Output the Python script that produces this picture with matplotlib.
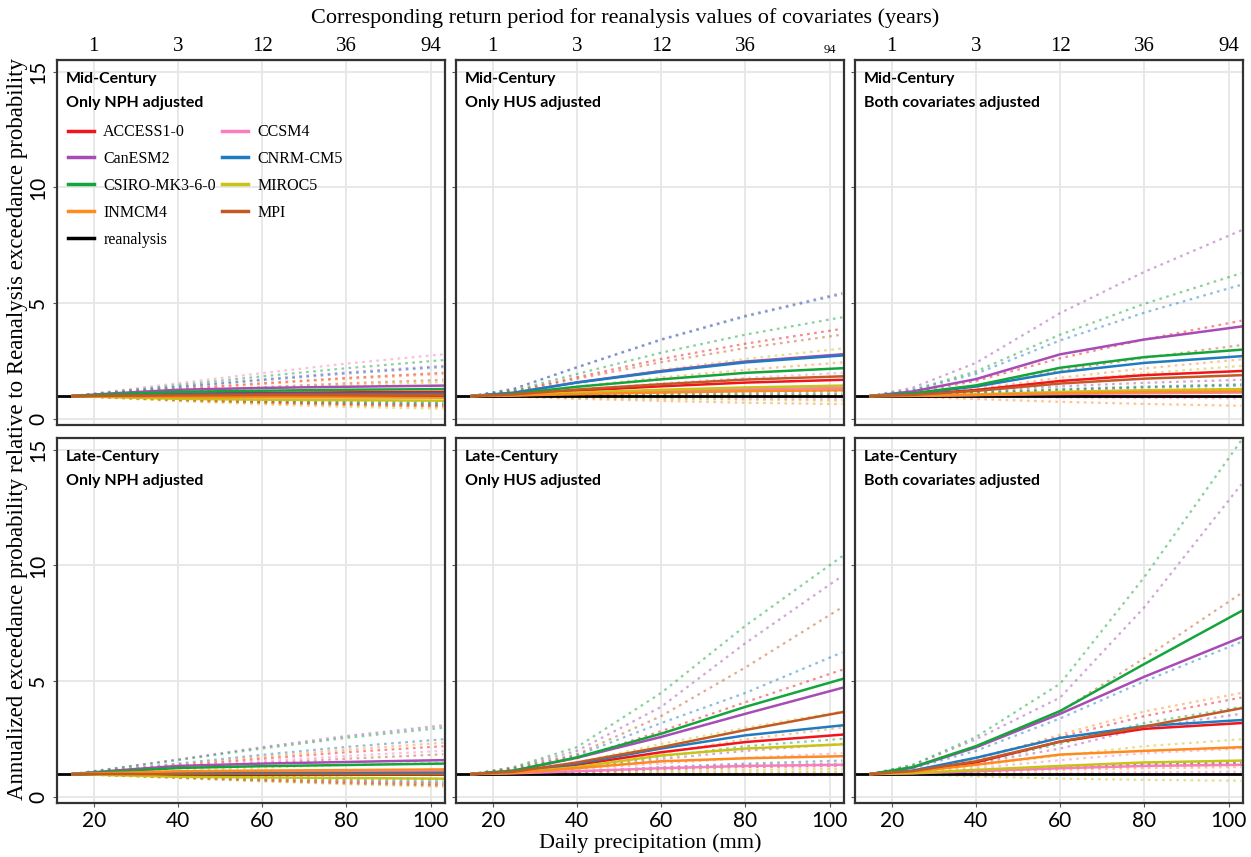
import matplotlib.pyplot as plt
from matplotlib.lines import Line2D

x_pts = [15, 25, 40, 60, 80, 103]

models = ["ACCESS1-0", "CCSM4", "CanESM2", "CNRM-CM5",
          "CSIRO-MK3-6-0", "MIROC5", "INMCM4", "MPI"]
colors = ["#f2141c", "#f77fbf", "#a84cb5", "#1f7cc1",
          "#13a53b", "#c9c317", "#ff8a1e", "#c25a25"]

top_ticks = [20, 40, 60, 80, 100]
top_labels = ["1", "3", "12", "36", "94"]

# ---- Mid-Century, only NPH adjusted
mid_nph_fit = [[1, 1.05, 1.10, 1.14, 1.16, 1.18],
               [1, 1.01, 1.03, 1.04, 1.05, 1.05],
               [1, 1.12, 1.27, 1.35, 1.40, 1.45],
               [1, 1.03, 1.06, 1.08, 1.09, 1.10],
               [1, 1.08, 1.18, 1.23, 1.27, 1.30],
               [1, 0.95, 0.88, 0.84, 0.82, 0.80],
               [1, 0.98, 0.96, 0.95, 0.94, 0.93],
               [1, 1.01, 1.03, 1.04, 1.05, 1.05]]
mid_nph_hi = [[1, 1.12, 1.30, 1.55, 1.78, 2.00],
              [1, 1.22, 1.55, 1.99, 2.40, 2.80],
              [1, 1.16, 1.40, 1.72, 2.02, 2.30],
              [1, 1.15, 1.38, 1.68, 1.97, 2.25],
              [1, 1.19, 1.47, 1.85, 2.20, 2.55],
              [1, 1.07, 1.18, 1.33, 1.47, 1.60],
              [1, 1.11, 1.29, 1.52, 1.74, 1.95],
              [1, 1.08, 1.21, 1.38, 1.55, 1.70]]
mid_nph_lo = [[1, 0.93, 0.82, 0.71, 0.62, 0.55],
              [1, 0.94, 0.84, 0.74, 0.66, 0.60],
              [1, 0.96, 0.90, 0.84, 0.79, 0.75],
              [1, 0.95, 0.86, 0.77, 0.70, 0.65],
              [1, 0.95, 0.88, 0.80, 0.74, 0.70],
              [1, 0.91, 0.78, 0.64, 0.53, 0.45],
              [1, 0.93, 0.82, 0.70, 0.61, 0.55],
              [1, 0.94, 0.84, 0.74, 0.66, 0.60]]

# ---- Mid-Century, only HUS adjusted
mid_hus_fit = [[1, 1.06, 1.23, 1.42, 1.58, 1.70],
               [1, 1.03, 1.12, 1.21, 1.29, 1.35],
               [1, 1.14, 1.59, 2.08, 2.49, 2.80],
               [1, 1.14, 1.58, 2.05, 2.45, 2.75],
               [1, 1.10, 1.40, 1.72, 2.00, 2.20],
               [1, 1.04, 1.15, 1.27, 1.37, 1.45],
               [1, 1.02, 1.08, 1.15, 1.21, 1.25],
               [1, 1.07, 1.28, 1.51, 1.71, 1.85]]
mid_hus_hi = [[1, 1.20, 1.81, 2.60, 3.26, 3.90],
              [1, 1.07, 1.28, 1.55, 1.78, 2.00],
              [1, 1.31, 2.25, 3.45, 4.47, 5.45],
              [1, 1.31, 2.23, 3.42, 4.43, 5.40],
              [1, 1.24, 1.95, 2.87, 3.65, 4.40],
              [1, 1.14, 1.57, 2.13, 2.60, 3.05],
              [1, 1.10, 1.41, 1.80, 2.13, 2.45],
              [1, 1.19, 1.74, 2.46, 3.07, 3.65]]
mid_hus_lo = [[1, 0.99, 0.98, 0.97, 0.96, 0.95],
              [1, 0.98, 0.95, 0.91, 0.88, 0.85],
              [1, 1.03, 1.09, 1.15, 1.21, 1.25],
              [1, 1.02, 1.07, 1.12, 1.16, 1.20],
              [1, 1.01, 1.04, 1.06, 1.08, 1.10],
              [1, 0.98, 0.93, 0.88, 0.84, 0.80],
              [1, 0.97, 0.88, 0.79, 0.71, 0.65],
              [1, 1.01, 1.02, 1.03, 1.04, 1.05]]

# ---- Mid-Century, both covariates adjusted
mid_both_fit = [[1, 1.06, 1.26, 1.65, 1.90, 2.08],
                [1, 1.01, 1.04, 1.09, 1.12, 1.15],
                [1, 1.20, 1.73, 2.80, 3.44, 4.00],
                [1, 1.10, 1.41, 2.03, 2.43, 2.72],
                [1, 1.12, 1.46, 2.22, 2.68, 3.00],
                [1, 1.02, 1.07, 1.18, 1.25, 1.30],
                [1, 1.01, 1.05, 1.12, 1.17, 1.20],
                [1, 1.05, 1.22, 1.54, 1.75, 1.90]]
mid_both_hi = [[1, 1.16, 1.65, 2.63, 3.44, 4.25],
               [1, 1.03, 1.10, 1.25, 1.38, 1.50],
               [1, 1.36, 2.43, 4.58, 6.36, 8.15],
               [1, 1.24, 1.96, 3.40, 4.60, 5.80],
               [1, 1.27, 2.06, 3.65, 4.98, 6.30],
               [1, 1.07, 1.26, 1.65, 1.98, 2.30],
               [1, 1.08, 1.32, 1.79, 2.19, 2.58],
               [1, 1.11, 1.44, 2.10, 2.65, 3.20]]
mid_both_lo = [[1, 1.02, 1.09, 1.18, 1.25, 1.30],
               [1, 0.99, 0.97, 0.94, 0.92, 0.90],
               [1, 1.06, 1.21, 1.42, 1.57, 1.70],
               [1, 1.04, 1.14, 1.27, 1.37, 1.45],
               [1, 1.04, 1.15, 1.30, 1.41, 1.50],
               [1, 1.00, 0.99, 0.97, 0.96, 0.95],
               [1, 0.97, 0.87, 0.75, 0.66, 0.58],
               [1, 1.02, 1.06, 1.12, 1.16, 1.20]]

# ---- Late-Century, only NPH adjusted
late_nph_fit = [[1, 1.03, 1.06, 1.08, 1.09, 1.10],
                [1, 1.03, 1.06, 1.08, 1.09, 1.10],
                [1, 1.15, 1.35, 1.45, 1.52, 1.60],
                [1, 1.01, 1.03, 1.04, 1.04, 1.05],
                [1, 1.11, 1.26, 1.34, 1.39, 1.45],
                [1, 0.95, 0.88, 0.85, 0.83, 0.80],
                [1, 1.05, 1.12, 1.15, 1.17, 1.20],
                [1, 1.00, 0.99, 0.99, 0.98, 0.98]]
late_nph_hi = [[1, 1.14, 1.36, 1.66, 1.94, 2.20],
               [1, 1.12, 1.30, 1.55, 1.78, 2.00],
               [1, 1.25, 1.63, 2.16, 2.64, 3.10],
               [1, 1.18, 1.45, 1.83, 2.17, 2.50],
               [1, 1.24, 1.60, 2.10, 2.56, 3.00],
               [1, 1.06, 1.15, 1.28, 1.39, 1.50],
               [1, 1.16, 1.41, 1.74, 2.05, 2.35],
               [1, 1.10, 1.26, 1.47, 1.66, 1.85]]
late_nph_lo = [[1, 0.95, 0.86, 0.74, 0.64, 0.55],
               [1, 0.95, 0.87, 0.77, 0.68, 0.60],
               [1, 0.98, 0.94, 0.88, 0.84, 0.80],
               [1, 0.96, 0.89, 0.80, 0.72, 0.65],
               [1, 0.97, 0.92, 0.86, 0.80, 0.75],
               [1, 0.93, 0.82, 0.68, 0.56, 0.45],
               [1, 0.95, 0.87, 0.77, 0.68, 0.60],
               [1, 0.94, 0.84, 0.71, 0.60, 0.50]]

# ---- Late-Century, only HUS adjusted
late_hus_fit = [[1, 1.08, 1.40, 1.94, 2.38, 2.70],
                [1, 1.03, 1.12, 1.25, 1.35, 1.40],
                [1, 1.14, 1.70, 2.60, 3.60, 4.72],
                [1, 1.09, 1.45, 2.10, 2.67, 3.10],
                [1, 1.15, 1.72, 2.74, 3.90, 5.10],
                [1, 1.06, 1.30, 1.80, 2.10, 2.28],
                [1, 1.05, 1.25, 1.55, 1.68, 1.77],
                [1, 1.10, 1.50, 2.16, 2.90, 3.67]]
late_hus_hi = [[1, 1.16, 1.68, 2.85, 4.10, 5.50],
               [1, 1.05, 1.20, 1.45, 1.70, 1.90],
               [1, 1.27, 2.00, 3.90, 6.65, 9.55],
               [1, 1.20, 1.80, 3.20, 4.50, 6.25],
               [1, 1.30, 2.16, 4.50, 7.40, 10.40],
               [1, 1.12, 1.50, 2.30, 3.00, 3.70],
               [1, 1.08, 1.35, 1.90, 2.50, 3.00],
               [1, 1.24, 1.85, 3.50, 5.60, 8.20]]
late_hus_lo = [[1, 1.02, 1.08, 1.20, 1.30, 1.35],
               [1, 0.99, 0.98, 0.97, 0.96, 0.95],
               [1, 1.04, 1.25, 1.65, 2.00, 2.30],
               [1, 1.02, 1.10, 1.30, 1.45, 1.58],
               [1, 1.05, 1.30, 1.75, 2.20, 2.52],
               [1, 1.01, 1.05, 1.12, 1.18, 1.22],
               [1, 1.00, 1.02, 1.05, 1.07, 1.10],
               [1, 1.02, 1.10, 1.25, 1.38, 1.45]]

# ---- Late-Century, both covariates adjusted
late_both_fit = [[1, 1.12, 1.50, 2.40, 2.95, 3.20],
                 [1, 1.03, 1.12, 1.25, 1.35, 1.40],
                 [1, 1.28, 2.15, 3.60, 5.20, 6.90],
                 [1, 1.15, 1.70, 2.56, 3.07, 3.33],
                 [1, 1.30, 2.20, 3.72, 5.75, 8.03],
                 [1, 1.04, 1.18, 1.35, 1.50, 1.58],
                 [1, 1.10, 1.40, 1.84, 2.00, 2.16],
                 [1, 1.13, 1.55, 2.40, 3.05, 3.84]]
late_both_hi = [[1, 1.15, 1.70, 2.60, 3.50, 4.30],
                [1, 1.06, 1.25, 1.60, 1.90, 2.10],
                [1, 1.38, 2.50, 4.30, 8.20, 13.50],
                [1, 1.25, 2.00, 3.40, 5.00, 6.70],
                [1, 1.40, 2.60, 4.90, 9.50, 15.40],
                [1, 1.08, 1.35, 1.80, 2.20, 2.50],
                [1, 1.15, 1.60, 2.70, 3.70, 4.50],
                [1, 1.30, 2.20, 3.70, 6.00, 8.80]]
late_both_lo = [[1, 1.02, 1.10, 1.25, 1.35, 1.40],
                [1, 1.00, 1.02, 1.05, 1.08, 1.10],
                [1, 1.08, 1.45, 2.10, 3.00, 3.60],
                [1, 1.03, 1.15, 1.30, 1.42, 1.48],
                [1, 1.10, 1.50, 2.30, 3.20, 3.90],
                [1, 0.98, 0.90, 0.80, 0.75, 0.71],
                [1, 1.02, 1.08, 1.18, 1.25, 1.30],
                [1, 1.03, 1.12, 1.30, 1.45, 1.50]]

panels = [
    ("Mid-Century\nOnly NPH adjusted", mid_nph_fit, mid_nph_lo, mid_nph_hi),
    ("Mid-Century\nOnly HUS adjusted", mid_hus_fit, mid_hus_lo, mid_hus_hi),
    ("Mid-Century\nBoth covariates adjusted", mid_both_fit, mid_both_lo, mid_both_hi),
    ("Late-Century\nOnly NPH adjusted", late_nph_fit, late_nph_lo, late_nph_hi),
    ("Late-Century\nOnly HUS adjusted", late_hus_fit, late_hus_lo, late_hus_hi),
    ("Late-Century\nBoth covariates adjusted", late_both_fit, late_both_lo, late_both_hi),
]

W, H = 1251, 857
fig = plt.figure(figsize=(W / 100, H / 100), dpi=100)

col_left = [57, 456, 855]
col_w = 388
row_top = [60, 438]
row_h = 365

serif = "Liberation Serif"
sans = "Lato"
xmin, xmax = 11.3, 103.4

for i, (title, fit, lo, hi) in enumerate(panels):
    r, c = divmod(i, 3)
    ax = fig.add_axes([col_left[c] / W, 1 - (row_top[r] + row_h) / H,
                       col_w / W, row_h / H])
    ax.set_xlim(xmin, xmax)
    ax.set_ylim(-0.25, 15.5)
    ax.set_xticks([20, 40, 60, 80, 100])
    ax.set_yticks([0, 5, 10, 15])
    ax.grid(True, color="#e6e6e6", lw=1.3)
    ax.set_axisbelow(True)
    for s in ax.spines.values():
        s.set_color("#333333")
        s.set_linewidth(1.6)
    ax.tick_params(length=3, color="#555555", labelsize=15)

    # dotted bounds first
    for k in range(len(models)):
        ax.plot(x_pts, hi[k], color=colors[k], lw=1.6, alpha=0.5,
                ls=(0, (1.2, 2.0)))
        ax.plot(x_pts, lo[k], color=colors[k], lw=1.6, alpha=0.5,
                ls=(0, (1.2, 2.0)))
    ax.plot([xmin, xmax], [1, 1], color="black", lw=2)
    for k in range(len(models)):
        ax.plot(x_pts, fit[k], color=colors[k], lw=1.8)

    for lab in ax.get_xticklabels() + ax.get_yticklabels():
        lab.set_fontfamily(sans)
    if c == 0:
        for lab in ax.get_yticklabels():
            lab.set_rotation(90)
            lab.set_va("center")
    else:
        ax.set_yticklabels([])
    if r == 0:
        ax.set_xticklabels([])
        ax.tick_params(axis="x", length=0)
        top = ax.secondary_xaxis("top")
        top.set_xticks(top_ticks)
        top.set_xticklabels(top_labels, fontfamily=serif, fontsize=15)
        top.tick_params(length=0, pad=3)
        if c == 1:
            top.get_xticklabels()[-1].set_fontsize(9)
    else:
        ax.tick_params(axis="x", pad=3)

    ax.text(0.022, 0.968, title, transform=ax.transAxes, ha="left", va="top",
            fontfamily=sans, fontweight="bold", fontsize=11.5, linespacing=1.95)

    if i == 0:
        handles = []
        order = [0, 2, 4, 6, None, 1, 3, 5, 7]
        for k in order:
            if k is None:
                handles.append(Line2D([], [], color="black", lw=2.5,
                                      label="reanalysis"))
            else:
                handles.append(Line2D([], [], color=colors[k], lw=2.5,
                                      label=models[k]))
        ax.legend(handles=handles, ncol=2, loc="upper left",
                  bbox_to_anchor=(0.0, 0.855), frameon=False,
                  prop={"family": serif, "size": 11.5},
                  handlelength=1.6, handletextpad=0.6, columnspacing=0.4,
                  labelspacing=0.68, borderaxespad=0.3)

fig.text(0.5, 0.979, "Corresponding return period for reanalysis values of covariates (years)",
         ha="center", va="center", fontfamily=serif, fontsize=16)
fig.text(0.52, 0.016, "Daily precipitation (mm)", ha="center", va="center",
         fontfamily=serif, fontsize=16)
fig.text(0.014, 0.5, "Annualized exceedance probability relative to Reanalysis exceedance probability",
         ha="center", va="center", rotation=90, fontfamily=serif, fontsize=16.5)

fig.savefig("out.png", dpi=100)
